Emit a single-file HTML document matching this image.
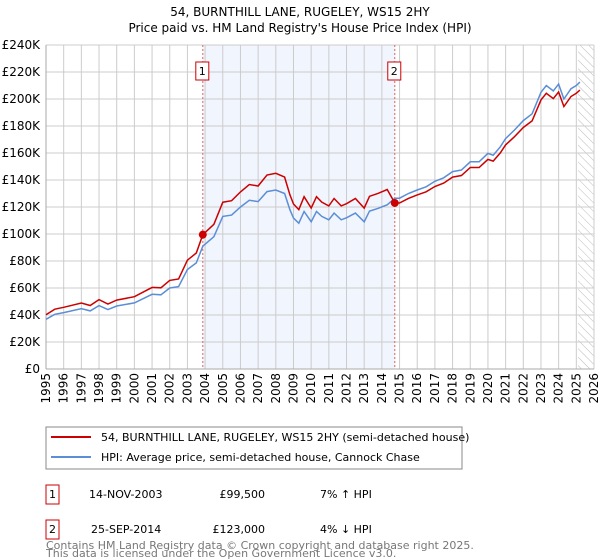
<!DOCTYPE html>
<html><head><meta charset="utf-8"><style>
body{margin:0;background:#fff;font-family:"DejaVu Sans","Liberation Sans",sans-serif;}
#wrap{position:relative;width:600px;height:560px;overflow:hidden}
</style></head><body><div id="wrap">
<svg id="svg" width="600" height="560" xmlns="http://www.w3.org/2000/svg" font-family="DejaVu Sans, Liberation Sans, sans-serif">
<text x="300" y="16" text-anchor="middle" font-size="12">54, BURNTHILL LANE, RUGELEY, WS15 2HY</text>
<text x="300" y="32" text-anchor="middle" font-size="12">Price paid vs. HM Land Registry's House Price Index (HPI)</text>
<g id="plot"></g>
<g>
<rect x="46" y="427" width="416" height="42" fill="#fff" stroke="#888"/>
<line x1="51" y1="437" x2="91" y2="437" stroke="#cc0000" stroke-width="2"/>
<text x="101" y="441" font-size="11">54, BURNTHILL LANE, RUGELEY, WS15 2HY (semi-detached house)</text>
<line x1="51" y1="457" x2="91" y2="457" stroke="#5b8ed6" stroke-width="2"/>
<text x="101" y="461" font-size="11">HPI: Average price, semi-detached house, Cannock Chase</text>
</g>
<g font-size="11">
<rect x="46" y="485" width="13" height="19" fill="#fff" stroke="#cc0000"/>
<text x="52.5" y="498" text-anchor="middle">1</text>
<text x="89" y="498">14-NOV-2003</text><text x="265" y="498" text-anchor="end">£99,500</text><text x="320" y="498">7% ↑ HPI</text>
<rect x="46" y="520" width="13" height="19" fill="#fff" stroke="#cc0000"/>
<text x="52.5" y="533" text-anchor="middle">2</text>
<text x="91" y="533">25-SEP-2014</text><text x="265" y="533" text-anchor="end">£123,000</text><text x="320" y="533">4% ↓ HPI</text>
</g>
<text x="46" y="549" font-size="11" fill="#777">Contains HM Land Registry data © Crown copyright and database right 2025.</text>
<text x="46" y="557" font-size="11" fill="#777">This data is licensed under the Open Government Licence v3.0.</text>
</svg></div>
<script>
const hpiYears=[1995,1995.5,1996,1997,1997.5,1998,1998.5,1999,2000,2001,2001.5,2002,2002.5,2003,2003.5,2003.87,2004.5,2005,2005.5,2006,2006.5,2007,2007.5,2008,2008.5,2008.8,2009,2009.3,2009.6,2010,2010.3,2010.6,2011,2011.3,2011.7,2012,2012.5,2013,2013.3,2013.8,2014.3,2014.73,2015,2015.5,2016,2016.5,2017,2017.5,2018,2018.5,2019,2019.5,2020,2020.3,2020.7,2021,2021.5,2022,2022.5,2023,2023.3,2023.7,2024,2024.3,2024.7,2025,2025.2];
const hpiValues=[36.8,40.5,41.8,44.7,43,47,44,46.7,49,55.3,55,60,61,73.7,78.6,91,98,113,114,120,125,124,131.4,132.6,130,118,111.8,108,116.7,109,116.7,113,110.5,115.5,110.5,112,115.5,109,117,119,121.6,126.5,126.5,130,132.6,135,139,141.6,146.2,147.4,153.5,153.5,159.7,158.4,164.6,170.7,177,184,189,205,210,206,211,200,207.6,210,212.5];
const saleYears=[2003.87,2014.73];
const salePrices=[99.5,123];
const saleLabels=["1","2"];
const yTicks=[0,20,40,60,80,100,120,140,160,180,200,220,240];
const xTicks=[1995,1996,1997,1998,1999,2000,2001,2002,2003,2004,2005,2006,2007,2008,2009,2010,2011,2012,2013,2014,2015,2016,2017,2018,2019,2020,2021,2022,2023,2024,2025,2026];
const X0=46,X1=594,Y0=369,Y1=45;
const xs=y=>X0+(y-1995)/(2026-1995)*(X1-X0);
const ys=v=>Y0-v/240*(Y0-Y1);
const NS="http://www.w3.org/2000/svg";
const g=document.getElementById('plot');
function mk(t,a){const e=document.createElementNS(NS,t);for(const k in a)e.setAttribute(k,a[k]);g.appendChild(e);return e;}
function hpiAt(t){for(let i=1;i<hpiYears.length;i++){if(t<=hpiYears[i]){const f=(t-hpiYears[i-1])/(hpiYears[i]-hpiYears[i-1]);return hpiValues[i-1]+f*(hpiValues[i]-hpiValues[i-1]);}}return hpiValues[hpiValues.length-1];}
let e=mk('rect',{x:xs(saleYears[0]),y:Y1,width:xs(saleYears[1])-xs(saleYears[0]),height:Y0-Y1,fill:'#eef3fc',opacity:0.8});


const defs=mk('defs',{});defs.innerHTML='<pattern id="hatch" width="6" height="6" patternUnits="userSpaceOnUse" patternTransform="rotate(-45)"><line x1="0" y1="0" x2="0" y2="6" stroke="#bbb" stroke-width="1"/></pattern>';
e=mk('rect',{x:xs(2025.1),y:Y1,width:X1-xs(2025.1),height:Y0-Y1,fill:'url(#hatch)'});


yTicks.forEach(v=>{mk('line',{x1:X0,x2:X1,y1:ys(v),y2:ys(v),stroke:'#ccc'});
e=mk('text',{x:X0-6,y:ys(v)+4,'text-anchor':'end','font-size':12});e.textContent='£'+(v?v+'K':'0');

});
xTicks.forEach(y=>{mk('line',{x1:xs(y),x2:xs(y),y1:Y1,y2:Y0,stroke:'#ccc'});
e=mk('text',{x:0,y:0,'text-anchor':'end','font-size':12,transform:`translate(${xs(y)+4},${Y0+4}) rotate(-90)`});e.textContent=y;

});
mk('line',{x1:X0,x2:X0,y1:Y1,y2:Y0,stroke:'#aaa'});mk('line',{x1:X0,x2:X1,y1:Y0,y2:Y0,stroke:'#aaa'});
saleYears.forEach((s,i)=>{e=mk('line',{x1:xs(s),x2:xs(s),y1:Y1,y2:Y0,stroke:'#e06060','stroke-dasharray':'2,2'});


mk('rect',{x:xs(s)-7,y:62,width:13,height:18,fill:'#fff',stroke:'#cc0000'});
e=mk('text',{x:xs(s)-0.5,y:75,'text-anchor':'middle','font-size':11});e.textContent=saleLabels[i];

});
let hp=hpiYears.map((y,i)=>xs(y).toFixed(1)+','+ys(hpiValues[i]).toFixed(1)).join(' ');
e=mk('polyline',{points:hp,fill:'none',stroke:'#5b8ed6','stroke-width':1.5});


const r1=salePrices[0]/hpiAt(saleYears[0]),r2=salePrices[1]/hpiAt(saleYears[1]);
let rp=hpiYears.map((y,i)=>{const r=y<saleYears[1]?r1:r2;return xs(y).toFixed(1)+','+ys(hpiValues[i]*r).toFixed(1);});
e=mk('polyline',{points:rp.join(' '),fill:'none',stroke:'#cc0000','stroke-width':1.5});


saleYears.forEach((s,i)=>{e=mk('circle',{cx:xs(s),cy:ys(salePrices[i]),r:4,fill:'#cc0000'});

});
</script></body></html>
